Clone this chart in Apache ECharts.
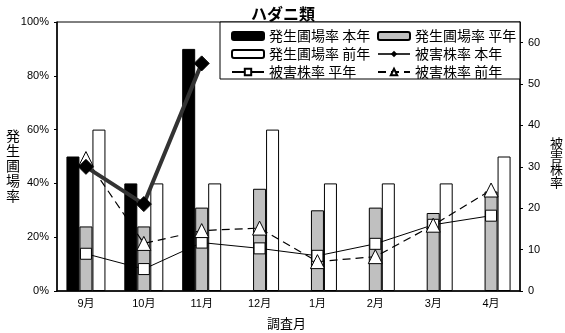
<!DOCTYPE html>
<html><head><meta charset="utf-8">
<script src="https://cdn.jsdelivr.net/npm/echarts@6/dist/echarts.min.js"></script>
<style>html,body{margin:0;padding:0;background:#fff}#c{width:565px;height:333px}</style>
</head><body><div id="c"></div>
<script>
var months = ['9月','10月','11月','12月','1月','2月','3月','4月'];
var fieldThisYear = [50, 40, 90, '-', '-', '-', '-', '-'];
var fieldNormal = [24, 24, 31, 38, 30, 31, 29, 37];
var fieldLastYear = [60, 40, 40, 60, 40, 40, 40, 50];
var plantThisYear = [30, 21, 55, '-', '-', '-', '-', '-'];
var plantNormal = [9, 5.3, 11.7, 10.3, 8.5, 11.4, 16, 18.2];
var plantLastYear = [32, 11.5, 14.6, 15.2, 7.1, 8.3, 15.9, 24.4];
var leftTicks = {min: 0, max: 100, interval: 20};
var rightTicks = {min: 0, max: 65, interval: 10};

var F = "'Liberation Sans', 'Noto Sans CJK JP', sans-serif";
var J = "'Noto Sans CJK JP', sans-serif";
var LT = {fontFamily: J, fontSize: 14, color: '#000'};
var chart = echarts.init(document.getElementById('c'));
chart.setOption({
  animation: false,
  backgroundColor: '#fff',
  title: {text: 'ハダニ類', left: 246, top: 1, textStyle: {fontFamily: J, fontSize: 16, fontWeight: 'bold', color: '#000'}},
  grid: {left: 57, right: 45, top: 22, bottom: 42, show: true, borderColor: '#000', borderWidth: 1},
  legend: [
    {data: ['発生圃場率 本年', '発生圃場率 前年', '被害株率 平年'], orient: 'vertical', left: 226, top: 24, itemWidth: 32, itemHeight: 8, itemGap: 4, textStyle: LT},
    {data: ['発生圃場率 平年', '被害株率 本年', '被害株率 前年'], orient: 'vertical', left: 372, top: 24, itemWidth: 32, itemHeight: 8, itemGap: 4, textStyle: LT}
  ],
  graphic: [
    {type: 'rect', z: 3, shape: {x: 220, y: 22, width: 300, height: 57}, style: {fill: '#fff', stroke: '#000', lineWidth: 1}},
    {type: 'text', left: 6, top: 128, style: {text: '発\n生\n圃\n場\n率', fontFamily: J, fontSize: 14, lineHeight: 15, fill: '#000'}},
    {type: 'text', left: 550, top: 137, style: {text: '被\n害\n株\n率', fontFamily: J, fontSize: 13, lineHeight: 13, fill: '#000'}},
    {type: 'text', left: 267, top: 317, style: {text: '調査月', fontFamily: J, fontSize: 13, fill: '#000'}}
  ],
  xAxis: {type: 'category', data: months, boundaryGap: true,
    axisLine: {lineStyle: {color: '#000', width: 1.5}},
    axisTick: {inside: true, length: 3, lineStyle: {color: '#000'}},
    axisLabel: {fontFamily: F, fontSize: 11, color: '#000', margin: 7},
    splitLine: {show: false}},
  yAxis: [
    {type: 'value', min: leftTicks.min, max: leftTicks.max, interval: leftTicks.interval,
      axisLine: {show: true, lineStyle: {color: '#000', width: 1.5}},
      axisTick: {show: true, length: 3, lineStyle: {color: '#000'}},
      axisLabel: {formatter: '{value}%', fontFamily: F, fontSize: 11, color: '#000', margin: 8},
      splitLine: {show: false}},
    {type: 'value', min: rightTicks.min, max: rightTicks.max, interval: rightTicks.interval, position: 'right',
      axisLine: {show: true, lineStyle: {color: '#000', width: 1.5}},
      axisTick: {show: true, length: 3, lineStyle: {color: '#000'}},
      axisLabel: {fontFamily: F, fontSize: 11, color: '#000', margin: 8, showMaxLabel: false},
      splitLine: {show: false}}
  ],
  series: [
    {name: '発生圃場率 本年', type: 'bar', data: fieldThisYear, barWidth: 13, barGap: '0%', itemStyle: {color: '#000', borderColor: '#000', borderWidth: 1}},
    {name: '発生圃場率 平年', type: 'bar', data: fieldNormal, barWidth: 13, barGap: '0%', itemStyle: {color: '#c0c0c0', borderColor: '#000', borderWidth: 1}},
    {name: '発生圃場率 前年', type: 'bar', data: fieldLastYear, barWidth: 13, barGap: '0%', itemStyle: {color: '#fff', borderColor: '#000', borderWidth: 1}},
    {name: '被害株率 本年', type: 'line', yAxisIndex: 1, data: plantThisYear, z: 5, symbol: 'diamond', symbolSize: 15,
      lineStyle: {color: '#333', width: 4}, itemStyle: {color: '#000', borderColor: '#000'}},
    {name: '被害株率 平年', type: 'line', yAxisIndex: 1, data: plantNormal, z: 4, symbol: 'rect', symbolSize: 11,
      lineStyle: {color: '#000', width: 1}, itemStyle: {color: '#fff', borderColor: '#000', borderWidth: 1}},
    {name: '被害株率 前年', type: 'line', yAxisIndex: 1, data: plantLastYear, z: 4, symbol: 'triangle', symbolSize: 14,
      lineStyle: {color: '#000', width: 1.2, type: [8, 5]}, itemStyle: {color: '#fff', borderColor: '#000', borderWidth: 1}}
  ]
});
</script></body></html>
